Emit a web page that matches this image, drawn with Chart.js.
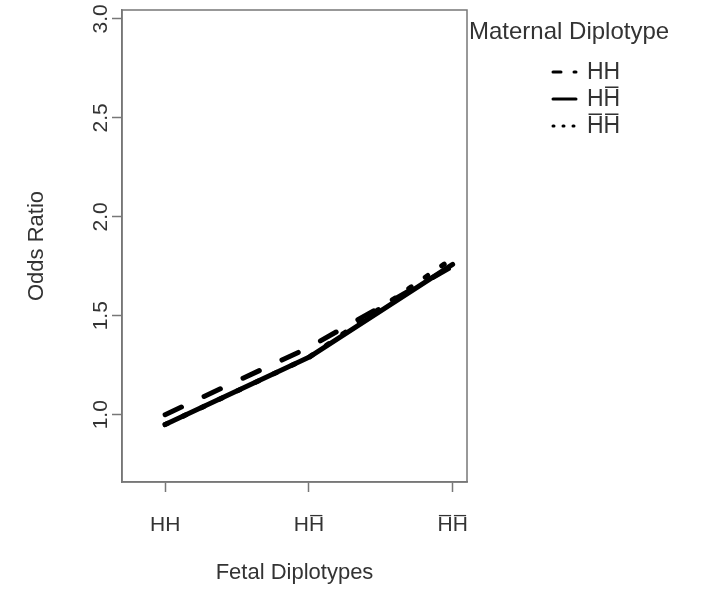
<!DOCTYPE html>
<html>
<head>
<meta charset="utf-8">
<script src="https://cdn.jsdelivr.net/npm/chart.js@4.4.0/dist/chart.umd.min.js"></script>
<style>
    html, body { margin: 0; padding: 0; background: #fff; }
    #wrap { width: 706px; height: 601px; position: relative; }
</style>
</head>
<body>
<div id="wrap"><canvas id="chart-odds"></canvas></div>
<script>
// Diplotype labels, U+0305 puts the bar over the H
const fetalDiplotypes = ["HH", "HH\u0305", "H\u0305H\u0305"];
const maternalDiplotypes = ["HH", "HH\u0305", "H\u0305H\u0305"];

// Odds ratio for each fetal diplotype, one list per maternal diplotype
const oddsMaternalHH = [1.00, 1.34, 1.75];
const oddsMaternalHHbar = [0.95, 1.29, 1.76];
const oddsMaternalHbarHbar = [0.95, 1.29, 1.79];

const yTickValues = [1.0, 1.5, 2.0, 2.5, 3.0];

const fontFamily = '"Liberation Sans", Arial, sans-serif';
const textColor = "#333";
const boxColor = "#777";

// x position of a fetal diplotype is its index + 1
const toPoints = (values) => values.map((v, i) => ({ x: i + 1, y: v }));

// R style box round the plot
const plotBox = {
    id: "plotBox",
    afterDatasetsDraw(chart) {
        const { ctx, chartArea } = chart;
        ctx.save();
        ctx.strokeStyle = boxColor;
        ctx.lineWidth = 1.5;
        ctx.strokeRect(chartArea.left, chartArea.top, chartArea.width, chartArea.height);
        ctx.restore();
    },
};

// legend sits outside the plot, to the right
const maternalLegend = {
    id: "maternalLegend",
    afterDraw(chart) {
        const ctx = chart.ctx;
        const left = chart.chartArea.right;
        ctx.save();
        ctx.fillStyle = textColor;
        ctx.textBaseline = "middle";
        ctx.textAlign = "left";
        ctx.font = "24px " + fontFamily;
        ctx.fillText("Maternal Diplotype", left + 2, 32);

        chart.data.datasets
            .slice()
            .sort((a, b) => a.legendRow - b.legendRow)
            .forEach((ds, i) => {
                const y = 72 + i * 27;
                ctx.beginPath();
                ctx.setLineDash(ds.legendDash);
                ctx.lineWidth = 3;
                ctx.lineCap = "round";
                ctx.strokeStyle = ds.borderColor;
                ctx.moveTo(left + 86, y);
                ctx.lineTo(left + 109, y);
                ctx.stroke();
                ctx.setLineDash([]);
                ctx.font = "23px " + fontFamily;
                ctx.fillText(ds.label, left + 120, y + 1);
            });
        ctx.restore();
    },
};

Chart.defaults.color = textColor;
Chart.defaults.font.family = fontFamily;

const canvas = document.getElementById("chart-odds");

const dataOdds = {
    datasets: [
        {
            label: maternalDiplotypes[1],
            data: toPoints(oddsMaternalHHbar),
            borderColor: "#000",
            borderWidth: 5,
            borderDash: [],
            legendDash: [],
            legendRow: 1,
            order: 0,
        },
        {
            label: maternalDiplotypes[0],
            data: toPoints(oddsMaternalHH),
            borderColor: "#000",
            borderWidth: 5,
            borderDash: [18, 25],
            legendDash: [8, 13],
            legendRow: 0,
            order: 1,
        },
        {
            label: maternalDiplotypes[2],
            data: toPoints(oddsMaternalHbarHbar),
            borderColor: "#000",
            borderWidth: 5,
            borderDash: [3, 17],
            legendDash: [1, 9],
            legendRow: 2,
            order: 2,
        },
    ],
};

const configOdds = {
    type: "line",
    data: dataOdds,
    options: {
        responsive: true,
        maintainAspectRatio: false,
        animation: false,
        layout: {
            padding: { left: 0, top: 10, right: 239, bottom: 0 },
        },
        elements: {
            point: { radius: 0 },
            line: { borderCapStyle: "round", borderJoinStyle: "round", tension: 0 },
        },
        plugins: {
            legend: { display: false },
            tooltip: { enabled: false },
        },
        scales: {
            x: {
                type: "linear",
                min: 0.7,
                max: 3.1,
                afterBuildTicks: (scale) => {
                    scale.ticks = fetalDiplotypes.map((_, i) => ({ value: i + 1 }));
                },
                afterFit: (scale) => { scale.height = 119; },
                ticks: {
                    font: { size: 21 },
                    padding: 21,
                    callback: (value) => fetalDiplotypes[value - 1],
                },
                grid: {
                    drawOnChartArea: false,
                    tickLength: 10,
                    tickWidth: 1.5,
                    tickColor: boxColor,
                },
                border: { color: boxColor, width: 1.5 },
                title: {
                    display: true,
                    text: "Fetal Diplotypes",
                    font: { size: 22 },
                    padding: { top: 0, bottom: 15 },
                },
            },
            y: {
                type: "linear",
                min: 0.66,
                max: 3.045,
                afterBuildTicks: (scale) => {
                    scale.ticks = yTickValues.map((v) => ({ value: v }));
                },
                afterFit: (scale) => { scale.width = 122; },
                ticks: {
                    font: { size: 21 },
                    minRotation: 90,
                    maxRotation: 90,
                    crossAlign: "center",
                    padding: -4,
                    callback: (value) => value.toFixed(1),
                },
                grid: {
                    drawOnChartArea: false,
                    tickLength: 10,
                    tickWidth: 1.5,
                    tickColor: boxColor,
                },
                border: { color: boxColor, width: 1.5 },
                title: {
                    display: true,
                    text: "Odds Ratio",
                    font: { size: 22 },
                    padding: { top: 24, bottom: 0 },
                },
            },
        },
    },
    plugins: [plotBox, maternalLegend],
};

new Chart(canvas, configOdds);
</script>
</body>
</html>
